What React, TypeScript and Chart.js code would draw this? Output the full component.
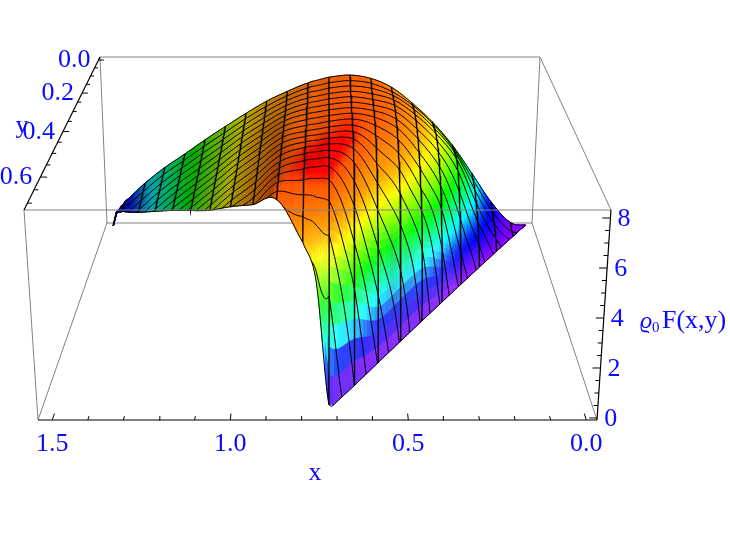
import React, { useEffect, useRef } from "react";
import { Chart, registerables } from "chart.js";

Chart.register(...registerables);

// ---- data ----
const xTicksMajor = [1.5, 1.0, 0.5, 0.0];
const xTicksMinor = [1.4, 1.3, 1.2, 1.1, 0.9, 0.8, 0.7, 0.6, 0.4, 0.3, 0.2, 0.1];
const yTicksMajor = [0.0, 0.2, 0.4, 0.6];
const yTicksMinor = [0.05, 0.1, 0.15, 0.25, 0.3, 0.35, 0.45, 0.5, 0.55, 0.65, 0.7];
const zTicksMajor = [0, 2, 4, 6, 8];
const zTicksMinor = [0.5, 1, 1.5, 2.5, 3, 3.5, 4.5, 5, 5.5, 6.5, 7, 7.5];

const rowStep = 0.035;
const xColumns = [0, 0.055, 0.129, 0.203, 0.277, 0.352, 0.426, 0.5, 0.574, 0.648, 0.723, 0.76, 0.797, 0.871, 0.945, 1.019, 1.094, 1.168, 1.242, 1.316, 1.39, 1.464, 1.497, 1.512];
const columnLimits = [0, 0.0535, 0.125, 0.197, 0.269, 0.342, 0.414, 0.486, 0.558, 0.63, 0.7, 0.67, 0.655, 0.62, 0.556, 0.486, 0.408, 0.328, 0.254, 0.184, 0.114, 0.044, 0.005, 0];
const columnsWithoutRib = [0, 11, 23];
// height at y = 0, rowStep, 2*rowStep ... on each column; the last entry is the height on the domain's edge
const heightReadings = [
  [0, 0],
  [0.22, 0.1, 0],
  [1.2, 1.05, 0.8, 0.45, 0],
  [2.58, 2.55, 2.4, 2.1, 1.6, 0.9, 0],
  [3.93, 4.05, 4.15, 4.15, 3.9, 3.3, 2.4, 1.2, 0],
  [5.05, 5.2, 5.3, 5.35, 5.3, 5.1, 4.75, 4.2, 3.5, 2.1, 0],
  [5.95, 6.1, 6.2, 6.25, 6.25, 6.15, 6.0, 5.7, 5.3, 4.75, 4.1, 2.8, 0],
  [6.7, 6.75, 6.85, 6.92, 6.95, 6.95, 6.9, 6.8, 6.6, 6.3, 5.9, 5.2, 4.2, 2.6, 0],
  [7.12, 7.15, 7.18, 7.2, 7.22, 7.25, 7.28, 7.28, 7.22, 7.08, 6.85, 6.5, 6.0, 5.2, 4.0, 2.4, 0],
  [7.28, 7.28, 7.3, 7.32, 7.35, 7.38, 7.42, 7.46, 7.5, 7.53, 7.55, 7.55, 7.45, 7.2, 6.75, 6.05, 4.9, 3.4, 0],
  [7.18, 7.18, 7.2, 7.22, 7.25, 7.28, 7.32, 7.36, 7.4, 7.45, 7.5, 7.58, 7.65, 7.7, 7.72, 7.68, 7.5, 7.0, 6.0, 4.0, 0.25],
  [7.05, 7.06, 7.08, 7.11, 7.15, 7.19, 7.23, 7.27, 7.3, 7.36, 7.42, 7.5, 7.58, 7.65, 7.68, 7.68, 7.55, 7.15, 6.4, 5.0, 4.7],
  [6.9, 6.93, 6.97, 7.0, 7.04, 7.08, 7.13, 7.17, 7.21, 7.26, 7.34, 7.42, 7.5, 7.56, 7.6, 7.6, 7.5, 7.25, 6.75, 6.0],
  [6.5, 6.55, 6.6, 6.65, 6.7, 6.76, 6.82, 6.88, 6.94, 7.0, 7.06, 7.12, 7.18, 7.24, 7.3, 7.36, 7.4, 7.38, 7.3],
  [6.03, 6.05, 6.08, 6.1, 6.13, 6.16, 6.19, 6.22, 6.25, 6.28, 6.3, 6.33, 6.36, 6.38, 6.4, 6.42, 6.45],
  [5.45, 5.46, 5.47, 5.48, 5.5, 5.5, 5.52, 5.53, 5.55, 5.56, 5.57, 5.58, 5.6, 5.62, 5.65],
  [4.82, 4.8, 4.78, 4.77, 4.76, 4.75, 4.74, 4.73, 4.72, 4.72, 4.72, 4.72, 4.72],
  [4.18, 4.15, 4.12, 4.08, 4.05, 4.02, 4.0, 3.97, 3.95, 3.93, 3.92],
  [3.5, 3.47, 3.43, 3.4, 3.35, 3.3, 3.26, 3.22, 3.2],
  [2.85, 2.8, 2.72, 2.65, 2.58, 2.5, 2.48],
  [2.1, 2.0, 1.9, 1.8, 1.77],
  [1.24, 1.2, 1.15],
  [0.72, 0.7],
  [0, 0],
];
const heightColumns = heightReadings.map((c) => c.map((v) => Math.max(0, v * 1.05 - 0.08)));
const hueHeights = [0, 0.76, 1.5, 2.23, 2.86, 3.91, 4.65, 5.49, 6.33, 6.96, 7.72, 7.95];
const hueValues = [0.76, 0.7, 0.64, 0.52, 0.45, 0.33, 0.25, 0.17, 0.11, 0.085, 0.055, 0];

// ---- view of the box ----
const xRange = [-0.03, 1.54];
const yRange = [-0.02, 0.725];
const zRange = [-0.08, 8.32];
const nearDepthWeight = 0.736;
const farFace = { tl: [100, 57], tr: [540, 57], bl: [107, 223], br: [532, 223] };
const nearFace = { tl: [24, 210], tr: [611, 210], bl: [38, 420], br: [597, 420] };

type P = { x: number; y: number };
const mix = (a: number, b: number, t: number) => a + (b - a) * t;
function onFace(f: typeof farFace, X: number, Z: number) {
  const bx = mix(f.bl[0], f.br[0], X), by = mix(f.bl[1], f.br[1], X);
  const tx = mix(f.tl[0], f.tr[0], X), ty = mix(f.tl[1], f.tr[1], X);
  return [mix(bx, tx, Z), mix(by, ty, Z)];
}
function project(x: number, y: number, z: number): P {
  const X = (xRange[1] - x) / (xRange[1] - xRange[0]);
  const t = (y - yRange[0]) / (yRange[1] - yRange[0]);
  const Z = (z - zRange[0]) / (zRange[1] - zRange[0]);
  const a = onFace(farFace, X, Z), b = onFace(nearFace, X, Z);
  const w0 = 1 - t, w1 = nearDepthWeight * t, s = w0 + w1;
  return { x: (a[0] * w0 + b[0] * w1) / s, y: (a[1] * w0 + b[1] * w1) / s };
}

// ---- surface helpers: a smooth curve through the table's readings ----
const spline = (p0: number, p1: number, p2: number, p3: number, t: number) =>
  0.5 * (2 * p1 + (p2 - p0) * t + (2 * p0 - 5 * p1 + 4 * p2 - p3) * t * t + (3 * p1 - p0 - 3 * p2 + p3) * t * t * t);

function heightAt(i: number, s: number) {
  const col = heightColumns[i], lim = columnLimits[i], n = col.length - 1;
  if (lim <= 0) return col[0];
  const y = s * lim;
  const j = Math.floor(y / rowStep);
  if (j >= n - 1) {
    const y1s = (n - 1) * rowStep;
    if (n < 2 || lim <= y1s) return mix(col[n - 1], col[n], lim > y1s ? Math.min(1, (y - y1s) / (lim - y1s)) : 1);
    // curve through the last two rows and the edge reading
    const y0s = (n - 2) * rowStep;
    const a = col[n - 2], b = col[n - 1], c = col[n];
    return (
      (a * (y - y1s) * (y - lim)) / ((y0s - y1s) * (y0s - lim)) +
      (b * (y - y0s) * (y - lim)) / ((y1s - y0s) * (y1s - lim)) +
      (c * (y - y0s) * (y - y1s)) / ((lim - y0s) * (lim - y1s))
    );
  }
  const a = col[Math.max(0, j - 1)], b = col[j], c = col[j + 1], d = j + 2 >= n ? col[n] : col[j + 2];
  return spline(a, b, c, d, y / rowStep - j);
}
const last = xColumns.length - 1;
function heightOver(u: number, s: number) {
  const i = Math.min(last - 1, Math.floor(u)), f = u - i;
  const v = spline(heightAt(Math.max(0, i - 1), s), heightAt(i, s), heightAt(i + 1, s), heightAt(Math.min(last, i + 2), s), f);
  return Math.max(0, v);
}
const xOver = (u: number) => { const i = Math.min(last - 1, Math.floor(u)); return mix(xColumns[i], xColumns[i + 1], u - i); };
const limOver = (u: number) => { const i = Math.min(last - 1, Math.floor(u)); return mix(columnLimits[i], columnLimits[i + 1], u - i); };

function hueFor(z: number) {
  for (let k = 1; k < hueHeights.length; k++) {
    if (z <= hueHeights[k]) return mix(hueValues[k - 1], hueValues[k], (z - hueHeights[k - 1]) / (hueHeights[k] - hueHeights[k - 1]));
  }
  return 0;
}
function colorFor(z: number, dzdx: number, dzdy: number) {
  const h = hueFor(z) * 6;
  const q = 1 - Math.abs((h % 2) - 1);
  let rgb = h < 1 ? [1, q, 0] : h < 2 ? [q, 1, 0] : h < 3 ? [0, 1, q] : h < 4 ? [0, q, 1] : h < 5 ? [q, 0, 1] : [1, 0, q];
  const shade = Math.max(0.66, 1 - 0.034 * Math.max(0, -dzdx));
  const pale = Math.min(0.18, Math.max(0, -dzdy - 25) * 0.004);
  rgb = rgb.map((v) => mix(v * shade, 1, pale));
  return `rgb(${Math.round(rgb[0] * 255)},${Math.round(rgb[1] * 255)},${Math.round(rgb[2] * 255)})`;
}

// ---- line data built from the tables ----
function ribPoints(i: number) {
  const pts: P[] = [];
  for (let k = 0; k <= 48; k++) pts.push(project(xColumns[i], (k / 48) * columnLimits[i], Math.max(0, heightAt(i, k / 48))));
  return pts;
}
function rowPoints(j: number) {
  const y = j * rowStep;
  const pts: P[] = [];
  const add = (u: number) => {
    const lim = limOver(u);
    pts.push(project(xOver(u), y, heightOver(u, lim > 0 ? Math.min(1, y / lim) : 0)));
  };
  const N = 10;
  for (let n = 0; n <= last * N; n++) {
    const u = n / N;
    const inside = y <= limOver(u) + 1e-9;
    if (n > 0) {
      const up = (n - 1) / N;
      const wasInside = y <= limOver(up) + 1e-9;
      if (inside !== wasInside) {
        const a = limOver(up), b = limOver(u);
        add(up + ((y - a) / (b - a)) / N);
      }
    }
    if (inside) add(u);
  }
  return pts;
}
function edgePoints() {
  const pts: P[] = [];
  for (let n = 0; n <= last * 10; n++) pts.push(project(xOver(n / 10), limOver(n / 10), heightOver(n / 10, 1)));
  return pts;
}

const [x0, x1] = xRange, [y0, y1] = yRange, [z0, z1] = zRange;
const seg = (a: number[], b: number[]) => [project(a[0], a[1], a[2]), project(b[0], b[1], b[2])];

const backEdges = [
  seg([x1, y0, z0], [x0, y0, z0]), seg([x1, y0, z0], [x1, y0, z1]), seg([x0, y0, z0], [x0, y0, z1]),
  seg([x1, y0, z1], [x0, y0, z1]), seg([x1, y0, z0], [x1, y1, z0]), seg([x0, y0, z0], [x0, y1, z0]),
  seg([x0, y0, z1], [x0, y1, z1]),
];
const frontEdges = [seg([x1, y1, z1], [x0, y1, z1]), seg([x1, y1, z1], [x1, y1, z0])];
const axisLines = [seg([x1, y1, z0], [x0, y1, z0]), seg([x1, y0, z1], [x1, y1, z1]), seg([x0, y1, z0], [x0, y1, z1])];
const tickLines = [
  ...xTicksMajor.map((v) => seg([v, y1, z0], [v, y1 - 0.018, z0])),
  ...xTicksMinor.map((v) => seg([v, y1, z0], [v, y1 - 0.011, z0])),
  ...yTicksMajor.map((v) => seg([x1, v, z1], [x1 - 0.019, v, z1])),
  ...yTicksMinor.map((v) => seg([x1, v, z1], [x1 - 0.012, v, z1])),
  ...zTicksMajor.map((v) => seg([x0, y1, v], [x0 + 0.022, y1, v])),
  ...zTicksMinor.map((v) => seg([x0, y1, v], [x0 + 0.012, y1, v])),
];

const line = (data: P[], color: string, width: number, order: number, label = "") => ({
  type: "scatter" as const, label, data, showLine: true, borderColor: color, borderWidth: width,
  pointRadius: 0, tension: 0, fill: false, order,
});

const BLUE = "#0a0aff";
const SERIF = '"Liberation Serif", serif';

const surfacePlugin = {
  id: "surfacePaint",
  afterDatasetDraw(chart: any, args: any) {
    if (chart.data.datasets[args.index].label !== "surface") return;
    const { ctx, scales } = chart;
    const S = 84, U = 6, W = last * U;
    const zs: number[][] = [];
    for (let a = 0; a <= W; a++) {
      const r: number[] = [];
      for (let k = 0; k <= S; k++) r.push(heightOver(a / U, k / S));
      zs.push(r);
    }
    const px = (a: number, k: number) => {
      const u = a / U;
      const p = project(xOver(u), (k / S) * limOver(u), zs[a][k]);
      return [scales.x.getPixelForValue(p.x), scales.y.getPixelForValue(p.y)];
    };
    ctx.save();
    ctx.lineWidth = 0.8;
    for (let k = 0; k < S; k++) {
      for (let a = 0; a < W; a++) {
        const q = [px(a, k), px(a + 1, k), px(a + 1, k + 1), px(a, k + 1)];
        const z = (zs[a][k] + zs[a + 1][k] + zs[a][k + 1] + zs[a + 1][k + 1]) / 4;
        const dx = Math.max(1e-3, xOver((a + 1) / U) - xOver(a / U));
        const dzdx = ((zs[a + 1][k] + zs[a + 1][k + 1]) - (zs[a][k] + zs[a][k + 1])) / 2 / dx;
        const lim = Math.max(0.01, limOver((a + 0.5) / U));
        const dzdy = ((zs[a][k + 1] + zs[a + 1][k + 1]) - (zs[a][k] + zs[a + 1][k])) / 2 / (lim / S);
        const c = colorFor(z, dzdx, dzdy);
        ctx.fillStyle = c;
        ctx.strokeStyle = c;
        ctx.beginPath();
        ctx.moveTo(q[0][0], q[0][1]);
        for (let n = 1; n < 4; n++) ctx.lineTo(q[n][0], q[n][1]);
        ctx.closePath();
        ctx.fill();
        ctx.stroke();
      }
    }
    ctx.restore();
  },
};

const labelPlugin = {
  id: "axisText",
  afterDraw(chart: any) {
    const { ctx, scales } = chart;
    const at = (p: P, dx: number, dy: number) => [scales.x.getPixelForValue(p.x) + dx, scales.y.getPixelForValue(p.y) + dy];
    const put = (text: string, p: number[], align: CanvasTextAlign, font: string) => {
      ctx.font = font;
      ctx.textAlign = align;
      ctx.textBaseline = "alphabetic";
      ctx.fillText(text, p[0], p[1]);
    };
    const F = `26px ${SERIF}`;
    ctx.save();
    ctx.fillStyle = BLUE;
    xTicksMajor.forEach((v) => put(v.toFixed(1), at(project(v, y1, z0), 0, 31), "center", F));
    yTicksMajor.forEach((v) => put(v.toFixed(1), at(project(x1, v, z1), -8, 7), "right", F));
    zTicksMajor.forEach((v) => put(String(v), at(project(x0, y1, v), 7, 8), "left", F));
    put("x", [scales.x.getPixelForValue(315), scales.y.getPixelForValue(480)], "center", F);
    put("y", [scales.x.getPixelForValue(22), scales.y.getPixelForValue(133)], "center", F);
    const lx = scales.x.getPixelForValue(640), ly = scales.y.getPixelForValue(328);
    put("\u03F1", [lx, ly], "left", `italic 24px ${SERIF}`);
    put("0", [lx + 12, ly + 4], "left", `15px ${SERIF}`);
    put("F(x,y)", [lx + 22, ly], "left", `26px ${SERIF}`);
    ctx.restore();
  },
};

export default function App() {
  const ref = useRef<HTMLCanvasElement>(null);
  useEffect(() => {
    const datasets: any[] = [];
    backEdges.forEach((d) => datasets.push(line(d, "#808080", 1, 9)));
    datasets.push({
      type: "scatter", label: "surface", order: 8, pointRadius: 0, showLine: false,
      data: heightColumns.flatMap((c, i) => c.map((z, j) => project(xColumns[i], j === c.length - 1 ? columnLimits[i] : j * rowStep, z))),
    });
    xColumns.forEach((_, i) => { if (!columnsWithoutRib.includes(i)) datasets.push(line(ribPoints(i), "#000000", 1.3, 7)); });
    for (let j = 0; j < 20; j++) datasets.push(line(rowPoints(j), "#000000", 1, 7));
    datasets.push(line(edgePoints(), "#000000", 1, 7));
    frontEdges.forEach((d) => datasets.push(line(d, "#808080", 1, 6)));
    axisLines.forEach((d) => datasets.push(line(d, "#000000", 1.2, 5)));
    tickLines.forEach((d) => datasets.push(line(d, "#000000", 1, 5)));
    const chart = new Chart(ref.current as HTMLCanvasElement, {
      type: "scatter",
      data: { datasets },
      options: {
        responsive: false,
        animation: false,
        layout: { padding: 0 },
        plugins: { legend: { display: false }, tooltip: { enabled: false } },
        scales: {
          x: { type: "linear", min: 0, max: 730, display: false },
          y: { type: "linear", min: 0, max: 534, reverse: true, display: false },
        },
      },
      plugins: [surfacePlugin, labelPlugin],
    } as any);
    return () => chart.destroy();
  }, []);
  return (
    <div style={{ position: "absolute", left: 0, top: 0, width: 730, height: 534, background: "#fff" }}>
      <canvas ref={ref} width={730} height={534} style={{ display: "block" }} />
    </div>
  );
}
